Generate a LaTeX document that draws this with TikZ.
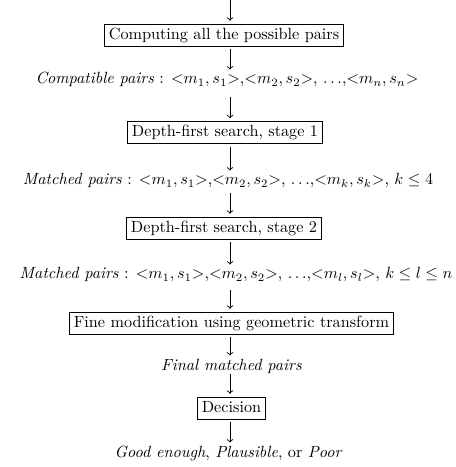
\documentclass[tikz,border=0pt]{standalone}
\newcommand\mypair[2]{\mathord{<}#1,#2\mathord{>}}
\begin{document}
\begin{tikzpicture}[x=0.617pt,y=-0.617pt,
  box/.style={draw,line width=0.55pt,inner xsep=2.5pt,inner ysep=2.3pt,text height=7pt,text depth=2pt},
  lab/.style={inner sep=0pt,anchor=base,text height=7pt,text depth=2.5pt},
  arr/.style={->,line width=0.55pt,shorten >=1.7pt,shorten <=1.8pt}]
\useasboundingbox (0,0) rectangle (455,467);
\coordinate (top) at (230,0);
\node[box] (b1) at (224,35) {Computing all the possible pairs};
\node[lab] (l1) at (227,84) {\textit{Compatible pairs} : $\mypair{m_1}{s_1}$,$\mypair{m_2}{s_2}$, $\ldots$,$\mypair{m_n}{s_n}$};
\node[box] (b2) at (225,132.5) {Depth-first search, stage 1};
\node[lab] (l2) at (228,185) {\textit{Matched pairs} : $\mypair{m_1}{s_1}$,$\mypair{m_2}{s_2}$, $\ldots$,$\mypair{m_k}{s_k}$, $k\le 4$};
\node[box] (b3) at (224,228) {Depth-first search, stage 2};
\node[lab] (l3) at (236,279) {\textit{Matched pairs} : $\mypair{m_1}{s_1}$,$\mypair{m_2}{s_2}$, $\ldots$,$\mypair{m_l}{s_l}$, $k\le l\le n$};
\node[box] (b4) at (231.5,323) {Fine modification using geometric transform};
\node[lab] (l4) at (231.5,370) {\textit{Final matched pairs}};
\node[box] (b5) at (231.5,408) {Decision};
\node[lab] (l5) at (228.5,457) {\textit{Good enough}, \textit{Plausible}, or \textit{Poor}};
\draw[arr,shorten <=0pt] (top) -- (b1.north -| top);
\draw[arr] (b1.south -| top) -- (l1.north -| top);
\draw[arr,shorten <=5.5pt] (l1.south -| top) -- (b2.north -| top);
\draw[arr] (b2.south -| top) -- (l2.north -| top);
\draw[arr,shorten <=2.5pt] (l2.south -| top) -- (b3.north -| top);
\draw[arr] (b3.south -| top) -- (l3.north -| top);
\draw[arr,shorten <=4.3pt] (l3.south -| top) -- (b4.north -| top);
\draw[arr] (b4.south -| top) -- (l4.north -| top);
\draw[arr,shorten <=0pt] (l4.south -| top) -- (b5.north -| top);
\draw[arr] (b5.south -| top) -- (l5.north -| top);
\end{tikzpicture}
\end{document}
